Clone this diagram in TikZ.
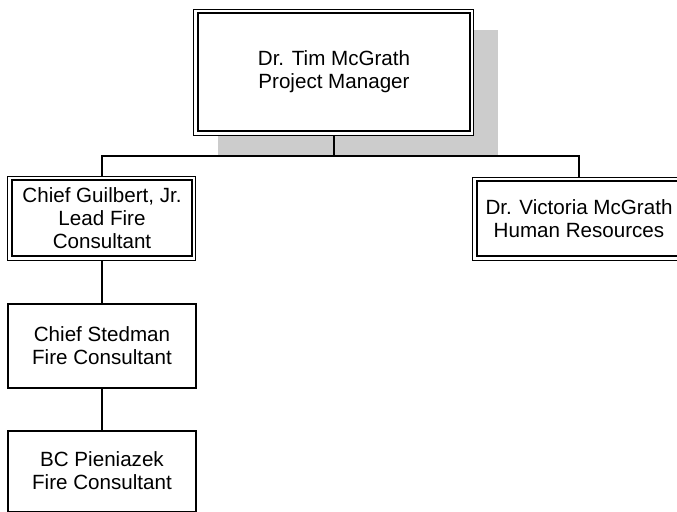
\documentclass[tikz,border=0pt]{standalone}
\usepackage{fontspec}
\setmainfont{Liberation Sans}
\usetikzlibrary{positioning,shadows}
\tikzstyle{post} = [draw,line width=0.5pt,rectangle,fill=white,inner sep=0,align=center,font=\fontsize{10.3}{11.6}\selectfont]
\tikzstyle{plainpost} = [post,line width=1pt]
\tikzstyle{frame} = [line width=1pt]
\tikzstyle{link} = [-,line width=1pt]
\tikzstyle{backshade} = [drop shadow={shadow xshift=12pt,shadow yshift=-10.5pt,fill=gray!40,opacity=1}]
\def \gap {2.2pt}

\begin{document}
\begin{tikzpicture}[x=0.5pt,y=-0.5pt]
      \useasboundingbox (0,0) rectangle (677,511);
      \node[post,backshade,minimum width=140pt,minimum height=63pt] (boss) at (334,72) {Dr. Tim McGrath\\Project Manager};
      \node[post,minimum width=94pt,minimum height=42pt] (guilbert) at (102,218) {Chief Guilbert, Jr.\\Lead Fire\\Consultant};
      \node[post,minimum width=106pt,minimum height=41.5pt] (victoria) at (579,218.5) {Dr. Victoria McGrath\\Human Resources};
      \node[plainpost,minimum width=94pt,minimum height=42pt,below=21pt of guilbert] (stedman) {Chief Stedman\\Fire Consultant};
      \node[plainpost,minimum width=94pt,minimum height=40.5pt,below=20.5pt of stedman] (pieniazek) {BC Pieniazek\\Fire Consultant};
      % inner lines of the double frames
      \foreach \n in {boss,guilbert,victoria}
        \draw[frame] ([shift={(\gap,-\gap)}]\n.north west) rectangle ([shift={(-\gap,\gap)}]\n.south east);
      \coordinate (bus) at (334,156);
      \draw[link] (boss.south) -- (bus);
      \draw[link] (guilbert.north) |- (bus) -| (victoria.north);
      \draw[link] (guilbert.south) -- (stedman.north);
      \draw[link] (stedman.south) -- (pieniazek.north);
    \end{tikzpicture}
\end{document}
